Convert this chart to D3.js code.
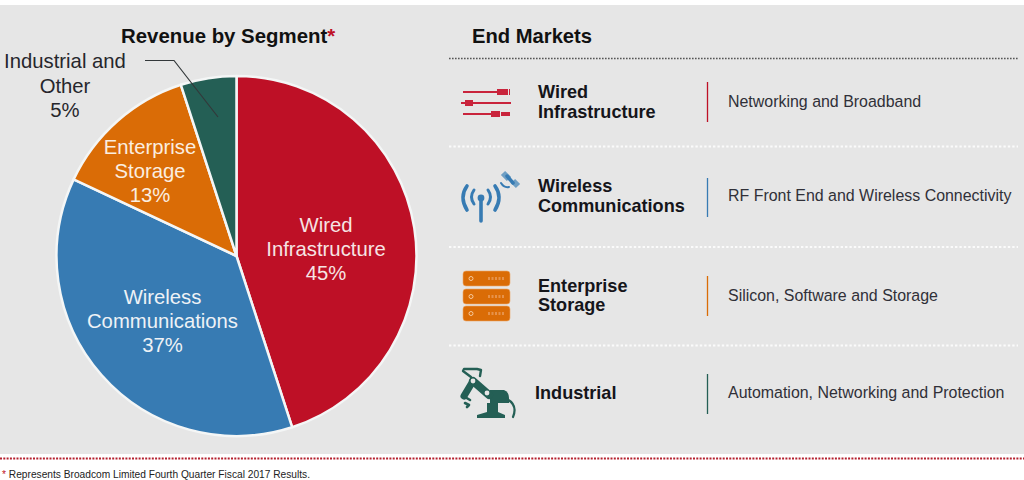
<!DOCTYPE html>
<html><head><meta charset="utf-8">
<script src="https://cdn.jsdelivr.net/npm/d3@7"></script>
<style>html,body{margin:0;padding:0;background:#fff}svg{display:block}text{font-family:"Liberation Sans",Arial,sans-serif}</style>
</head><body><svg id="c" width="1024" height="480"></svg>
<script>
const segments = ["Wired Infrastructure","Wireless Communications","Enterprise Storage","Industrial and Other"];
const shares = [45,37,13,5];
const colors = ["#be1026","#377bb3","#da6c06","#245f55"];
const labelLines = [["Wired","Infrastructure","45%"],["Wireless","Communications","37%"],["Enterprise","Storage","13%"],["Industrial and","Other","5%"]];
const marketNames = [["Wired","Infrastructure"],["Wireless","Communications"],["Enterprise","Storage"],["Industrial"]];
const marketDescriptions = ["Networking and Broadband","RF Front End and Wireless Connectivity","Silicon, Software and Storage","Automation, Networking and Protection"];
const marketColors = ["#be1026","#377bb3","#da6c06","#245f55"];

const svg = d3.select("#c");
svg.append("rect").attr("x",0).attr("y",5).attr("width",1024).attr("height",449).attr("fill","#e6e6e6");

// Pie
const cx=236.5, cy=256, R=180;
const pie = d3.pie().sort(null).value(d=>d)(shares);
const arc = d3.arc().innerRadius(0).outerRadius(R);
const gp = svg.append("g").attr("transform",`translate(${cx},${cy})`);
gp.selectAll("path").data(pie).join("path").attr("d",arc)
  .attr("fill",(d,i)=>colors[i]).attr("stroke","#f4f6f6").attr("stroke-width",2.5).attr("stroke-linejoin","round");

// Pie labels
const labelPos = [[326,225],[162.5,297],[150,147],[65,61]];
const labelFill = ["#f6e4e4","#eef2f6","#fbeee0","#26262c"];
labelLines.forEach((ls,i)=>{
  const t = svg.append("text").attr("text-anchor","middle").attr("font-size",20.3).attr("fill",labelFill[i]);
  ls.forEach((s,j)=>t.append("tspan").attr("x",labelPos[i][0]).attr("y",labelPos[i][1]+7+j*(i===3?24.5:24)).text(s));
});

// Leader
svg.append("path").attr("d","M145,60.5H174L218,117").attr("fill","none").attr("stroke","#33383a").attr("stroke-width",1.2);

// Titles
const t1 = svg.append("text").attr("x",121).attr("y",43).attr("font-size",20.4).attr("font-weight",700).attr("fill","#111");
t1.append("tspan").text("Revenue by Segment");
t1.append("tspan").attr("fill","#be1026").text("*");
svg.append("text").attr("x",472).attr("y",43).attr("font-size",20.2).attr("font-weight",700).attr("fill","#111").text("End Markets");

// Separators
svg.append("line").attr("x1",449).attr("x2",1018).attr("y1",58.5).attr("y2",58.5).attr("stroke","#555").attr("stroke-width",1.6).attr("stroke-dasharray","1.6 1.4");
[146.5,247,345.5].forEach(y=>svg.append("line").attr("x1",449).attr("x2",1018).attr("y1",y).attr("y2",y).attr("stroke","#fbfbfb").attr("stroke-width",2.2).attr("stroke-dasharray","2.4 2"));
svg.append("line").attr("x1",0).attr("x2",1024).attr("y1",458.5).attr("y2",458.5).attr("stroke","#b5202e").attr("stroke-width",1.8).attr("stroke-dasharray","2 1.3");

// Market rows
const nameY=[[98,118],[192,212],[292,311],[399]];
const nameX=[538,538,538,535];
const descY=[107,201,301,398];
const barY=[[82,122],[178,217],[276,316],[374,414]];
marketNames.forEach((ls,i)=>{
  ls.forEach((s,j)=>svg.append("text").attr("x",nameX[i]).attr("y",nameY[i][j]).attr("font-size",18.1).attr("font-weight",700).attr("fill","#15151a").text(s));
  svg.append("line").attr("x1",707.5).attr("x2",707.5).attr("y1",barY[i][0]).attr("y2",barY[i][1]).attr("stroke",marketColors[i]).attr("stroke-width",1.3);
  svg.append("text").attr("x",728).attr("y",descY[i]).attr("font-size",15.95).attr("fill","#303038").text(marketDescriptions[i]);
});

// Icon: cables
const ic0 = svg.append("g").attr("fill","#c9243c").attr("stroke","#c9243c");
ic0.append("path").attr("stroke-width",2).attr("d","M463,92H497M461,103H511M463,114H492");
ic0.append("path").attr("stroke","none").attr("d","M497,89H508V95H497ZM509,89H510V95H509ZM465,100H473V106H465ZM491,111H500V117H491ZM501,112H510V116H501Z");

// Icon: antenna + satellite
const c1 = marketColors[1];
const ic1 = svg.append("g").attr("fill","none").attr("stroke",c1).attr("stroke-linecap","round");
ic1.append("path").attr("stroke-width",3.6).attr("d","M481,201V221");
ic1.append("circle").attr("cx",481).attr("cy",198).attr("r",3.4).attr("fill",c1).attr("stroke","none");
ic1.append("path").attr("stroke-width",3).attr("d","M474,190Q469,197 474,204M488,190Q493,197 488,204");
ic1.append("path").attr("stroke-width",3.6).attr("d","M467,186Q459,197 467,210M495,186Q503,197 495,210");
ic1.append("path").attr("stroke","#6f9fc4").attr("stroke-linecap","butt").attr("stroke-width",6).attr("d","M503,173L509,179M513,181L518,186");
ic1.append("path").attr("stroke-width",3.5).attr("d","M507,176L513,183");
ic1.append("path").attr("stroke-width",2).attr("d","M501,183Q504,188 509,187");

// Icon: storage
const ic2 = svg.append("g");
[271,289,306].forEach(y=>{
  ic2.append("rect").attr("x",463).attr("y",y).attr("width",47).attr("height",15).attr("rx",3).attr("fill",marketColors[2]).attr("stroke","#eda868").attr("stroke-width",.6);
  ic2.append("circle").attr("cx",471).attr("cy",y+7.5).attr("r",2).attr("fill","none").attr("stroke","#f6c99c").attr("stroke-width",1);
  ic2.append("line").attr("x1",488).attr("x2",504).attr("y1",y+7.5).attr("y2",y+7.5).attr("stroke","#e6924a").attr("stroke-width",3).attr("stroke-dasharray","2 1.5");
});

// Icon: robot arm
const c3 = marketColors[3];
const ic3 = svg.append("g").attr("stroke",c3).attr("fill","none").attr("stroke-linecap","round").attr("stroke-linejoin","round");
ic3.append("path").attr("fill",c3).attr("stroke","none").attr("d","M477,418V415L487,412V403H498V412L505,415V418Z");
ic3.append("path").attr("fill",c3).attr("stroke","none").attr("d","M490,390H504Q509,392 509,398V403H490Z");
ic3.append("path").attr("stroke-width",8).attr("d","M473,381L489,395");
ic3.append("path").attr("stroke-width",7).attr("d","M473,381L464,396");
ic3.append("path").attr("stroke-width",2.6).attr("d","M465,397L470,400M465,403L469,405L467,407");
ic3.append("path").attr("stroke-width",2.4).attr("d","M471,377L463,371L464,369H477L481,370L480,376");
ic3.append("path").attr("stroke-width",2.2).attr("d","M507,399Q518,405 513,417");
[[473,381],[487,393]].forEach(p=>ic3.append("circle").attr("cx",p[0]).attr("cy",p[1]).attr("r",2.4).attr("fill","#e6e6e6").attr("stroke","none"));

// Footnote
const f = svg.append("text").attr("x",2).attr("y",477.5).attr("font-size",10.2).attr("fill","#222");
f.append("tspan").attr("fill","#be1026").text("* ");
f.append("tspan").text("Represents Broadcom Limited Fourth Quarter Fiscal 2017 Results.");
</script></body></html>
